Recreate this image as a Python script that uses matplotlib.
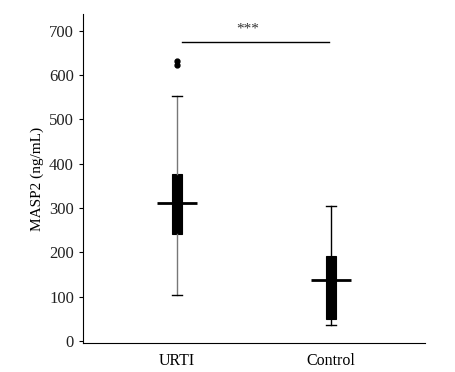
import numpy as np
import matplotlib
matplotlib.use("Agg")
import matplotlib.pyplot as plt

groups = ["URTI", "Control"]
whislo = [103, 36]
q1 = [242, 50]
med = [311, 138]
q3 = [377, 191]
whishi = [553, 305]
fliers = [[632, 623], []]
whisker_colors = ["#777777", "black"]

plt.rcParams["font.family"] = ["Liberation Serif", "DejaVu Serif"]

fig = plt.figure(figsize=(4.56, 3.72), dpi=100)
ax = fig.add_axes([0.182, 0.078, 0.750, 0.884])

pos = np.arange(1, len(groups) + 1)
stats = []
for i, g in enumerate(groups):
    stats.append(dict(label=g, whislo=whislo[i], q1=q1[i], med=med[i],
                      q3=q3[i], whishi=whishi[i], fliers=fliers[i]))

bp = ax.bxp(stats, positions=pos, widths=0.065, patch_artist=True,
            showfliers=True, capwidths=0.065,
            boxprops=dict(facecolor="black", edgecolor="black", linewidth=0.8),
            medianprops=dict(color="black", linewidth=0),
            flierprops=dict(marker="o", markersize=3.5, markerfacecolor="black",
                            markeredgecolor="black"))
for i, c in enumerate(whisker_colors):
    for w in bp["whiskers"][2 * i:2 * i + 2]:
        w.set_color(c)
        w.set_linewidth(1.0)
    for cp in bp["caps"][2 * i:2 * i + 2]:
        cp.set_color("black")
        cp.set_linewidth(1.0)

# wide median bars
ax.hlines(med, pos - 0.13, pos + 0.13, colors="black", linewidth=2)

# significance bracket
ax.plot([1.03, 1.99], [674, 674], color="black", linewidth=1)
ax.text(1.46, 688, "***", ha="center", va="bottom", fontsize=11, color="#333333")

ax.set_xlim(0.39, 2.61)
ax.set_ylim(-4, 737)
ax.set_yticks(np.arange(0, 701, 100))
ax.set_xticks(pos)
ax.set_xticklabels(groups)
ax.tick_params(axis="x", length=0, pad=7, labelsize=11.5)
ax.tick_params(axis="y", length=3, labelsize=12, labelcolor="#222222")
ax.set_ylabel("MASP2 (ng/mL)", fontsize=11)
ax.spines["top"].set_visible(False)
ax.spines["right"].set_visible(False)

fig.savefig("out.png", dpi=100)
